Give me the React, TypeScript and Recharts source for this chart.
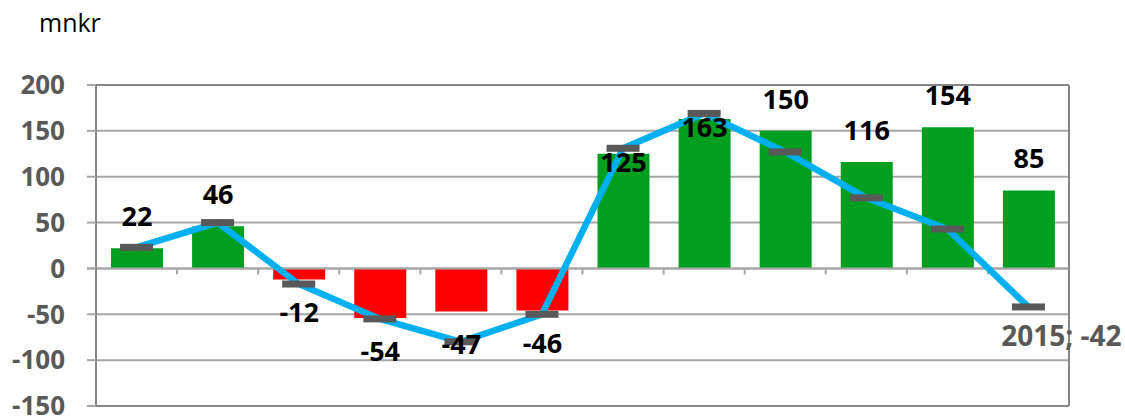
import React from 'react';
import {
  ComposedChart,
  Bar,
  Line,
  Cell,
  XAxis,
  YAxis,
  CartesianGrid,
  ReferenceLine,
  LabelList
} from 'recharts';

// years shown on the (hidden) category axis
const years = ['2004', '2005', '2006', '2007', '2008', '2009', '2010', '2011', '2012', '2013', '2014', '2015'];
// yearly result (bars)
const result = [22, 46, -12, -54, -47, -46, 125, 163, 150, 116, 154, 85];
// accumulated line (markers)
const trend = [23, 50, -17, -55, -80, -50, 131, 169, 127, 77, 43, -42];
const yTicks = [-150, -100, -50, 0, 50, 100, 150, 200];

const data = years.map((year, i) => ({ year, result: result[i], trend: trend[i] }));

const FONT = '"Open Sans", "DejaVu Sans", sans-serif';
const GREEN = '#009F20';
const RED = '#FF0000';
const BLUE = '#00B0F0';
const MARKER = '#595959';
const GRID = '#A6A6A6';
const AXIS = '#868686';

// bars 2010 and 2011 had their labels dragged inside the bar top
const insideLabels = new Set([6, 7]);

const BarValueLabel = (props: any) => {
  const { x, y, width, height, value, index } = props;
  const top = Math.min(y, y + height);
  const bottom = Math.max(y, y + height);
  const cx = x + width / 2;
  let cy = value >= 0 ? top - 32 : bottom + 33;
  if (insideLabels.has(index)) cy = top + 8;
  return (
    <text
      x={cx}
      y={cy}
      dy="0.36em"
      textAnchor="middle"
      fontFamily={FONT}
      fontWeight={700}
      fontSize={27}
      fill="#000"
    >
      {value}
    </text>
  );
};

const LastPointLabel = (props: any) => {
  const { x, y, value, index } = props;
  if (index !== years.length - 1) return null;
  return (
    <text
      x={x + 33}
      y={y + 29}
      dy="0.36em"
      textAnchor="middle"
      fontFamily={FONT}
      fontWeight={700}
      fontSize={28}
      fill={MARKER}
    >
      {`${years[index]}; ${value}`}
    </text>
  );
};

const Marker = (props: any) => {
  const { cx, cy, index } = props;
  return <rect key={`m-${index}`} x={cx - 16.5} y={cy - 3.5} width={33} height={7} fill={MARKER} />;
};

// zero line with small tick marks between the years
const ZeroAxis = (props: any) => {
  const { x1, x2, y1 } = props;
  const step = (x2 - x1) / years.length;
  return (
    <g>
      <line x1={x1 - 9} x2={x2} y1={y1} y2={y1} stroke={GRID} strokeWidth={2} />
      {years.slice(1).map((_, i) => (
        <line
          key={i}
          x1={x1 + step * (i + 1)}
          x2={x1 + step * (i + 1)}
          y1={y1}
          y2={y1 + 6}
          stroke={GRID}
          strokeWidth={2}
        />
      ))}
    </g>
  );
};

export default function App() {
  return (
    <div style={{ position: 'absolute', left: 0, top: 0, width: 1125, height: 417, background: '#fff' }}>
      <div
        style={{
          position: 'absolute',
          left: 39,
          top: 5,
          fontFamily: FONT,
          fontSize: 25,
          color: '#000'
        }}
      >
        mnkr
      </div>
      <ComposedChart
        width={1125}
        height={417}
        data={data}
        margin={{ top: 85, right: 55, bottom: 11, left: 0 }}
      >
        <CartesianGrid horizontal vertical={false} stroke={GRID} strokeWidth={2} />
        <XAxis dataKey="year" hide />
        <YAxis
          domain={[-150, 200]}
          ticks={yTicks}
          width={96}
          tickSize={9}
          tickMargin={22}
          tick={{ fill: MARKER, fontFamily: FONT, fontWeight: 700, fontSize: 26 }}
          tickLine={{ stroke: GRID, strokeWidth: 2 }}
          axisLine={{ stroke: AXIS, strokeWidth: 2 }}
          interval={0}
        />
        <YAxis
          yAxisId="right"
          orientation="right"
          domain={[-150, 200]}
          width={1}
          tick={false}
          tickLine={false}
          axisLine={{ stroke: AXIS, strokeWidth: 2 }}
        />
        <ReferenceLine y={200} stroke={AXIS} strokeWidth={2} />
        <ReferenceLine y={-150} stroke={AXIS} strokeWidth={2} />
        <ReferenceLine y={0} shape={<ZeroAxis />} />
        <Bar dataKey="result" barSize={52} isAnimationActive={false}>
          {data.map((d, i) => (
            <Cell key={i} fill={d.result >= 0 ? GREEN : RED} />
          ))}
          <LabelList dataKey="result" content={<BarValueLabel />} />
        </Bar>
        <Line
          dataKey="trend"
          type="linear"
          stroke={BLUE}
          strokeWidth={6.5}
          dot={<Marker />}
          activeDot={false}
          isAnimationActive={false}
        >
          <LabelList dataKey="trend" content={<LastPointLabel />} />
        </Line>
      </ComposedChart>
    </div>
  );
}
